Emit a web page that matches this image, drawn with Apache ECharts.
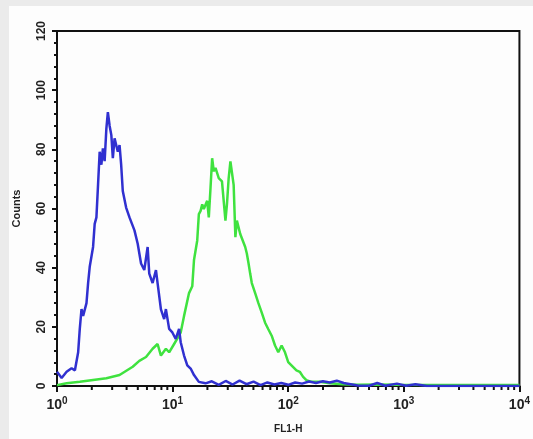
<!DOCTYPE html>
<html><head><meta charset="utf-8">
<script src="https://cdn.jsdelivr.net/npm/echarts@6/dist/echarts.min.js"></script>
<style>html,body{margin:0;padding:0;background:#ebebeb}#c{width:533px;height:439px}</style>
</head><body><div id="c"></div>
<script>
// FL1-H positions stored as log10 values (decades), counts per channel
const blueLog = [0.000,0.040,0.083,0.126,0.155,0.183,0.197,0.212,0.226,0.255,0.269,0.283,0.312,0.326,0.341,0.355,0.369,0.384,0.397,0.412,0.427,0.440,0.455,0.470,0.483,0.498,0.526,0.541,0.555,0.569,0.598,0.627,0.641,0.670,0.698,0.727,0.755,0.784,0.798,0.827,0.856,0.870,0.899,0.927,0.942,0.970,0.998,1.027,1.056,1.070,1.099,1.127,1.156,1.185,1.227,1.285,1.339,1.399,1.459,1.519,1.579,1.639,1.700,1.760,1.820,1.880,1.940,2.000,2.060,2.120,2.180,2.240,2.300,2.360,2.420,2.480,2.540,2.600,2.700,2.770,2.840,2.940,3.020,3.100,3.200,3.500,4.000];
const blueCounts = [4.8,2.7,4.8,6.0,5.3,11.4,19.3,26.0,23.7,28.0,34.8,40.3,47.0,54.8,57.0,68.0,79.2,74.8,80.3,76.0,87.0,92.6,88.0,84.8,77.0,83.7,79.2,81.4,74.8,65.9,60.3,57.0,57.0,52.6,48.1,41.4,39.2,47.0,38.0,34.8,39.2,34.8,25.9,22.6,26.0,19.3,18.1,15.9,19.3,14.8,10.3,7.0,5.9,3.7,1.4,0.9,1.6,0.4,1.7,0.5,1.8,0.6,1.5,0.3,1.2,0.5,1.0,0.4,1.2,0.8,1.5,1.0,1.6,1.2,1.8,1.0,0.6,0.2,0.1,1.0,0.1,0.8,0.1,0.6,0.0,0.0,0.0];
const greenLog = [0.000,0.083,0.197,0.312,0.427,0.541,0.655,0.712,0.770,0.827,0.870,0.899,0.942,0.970,1.013,1.056,1.070,1.099,1.142,1.170,1.185,1.199,1.213,1.227,1.242,1.256,1.270,1.299,1.313,1.328,1.342,1.356,1.371,1.399,1.427,1.457,1.470,1.485,1.500,1.528,1.543,1.556,1.585,1.628,1.642,1.657,1.671,1.685,1.714,1.742,1.771,1.800,1.828,1.857,1.886,1.914,1.943,1.972,2.000,2.028,2.071,2.100,2.129,2.157,2.200,2.272,2.358,2.470,2.600,2.770,2.940,3.290,3.630,4.000];
const greenCounts = [0.3,0.9,1.4,2.0,2.6,3.7,6.5,8.5,9.8,12.6,14.2,10.3,12.6,11.4,14.2,17.0,18.1,23.7,31.4,33.7,42.6,45.9,49.2,58.1,59.2,61.4,59.8,62.6,57.0,67.0,77.0,72.6,73.7,70.3,69.2,55.9,61.4,70.3,75.9,68.0,50.3,55.9,51.4,47.0,44.8,41.4,38.0,34.8,31.4,28.0,24.8,21.4,19.2,17.0,13.7,11.4,13.7,11.4,8.1,7.0,5.3,4.8,3.1,2.0,1.4,1.4,0.9,0.6,0.4,0.5,0.4,0.3,0.3,0.3];
const decadeTicks = [0,1,2,3,4];
const yTicks = [0,20,40,60,80,100,120];

const minorTicks = [];
for (let d = 0; d < 4; d++) for (let m = 2; m <= 9; m++) minorTicks.push([Math.log10(m) + d, 0]);

const chart = echarts.init(document.getElementById('c'));
const font = '"Liberation Sans", Arial, sans-serif';
chart.setOption({
  backgroundColor: '#ebebeb',
  animation: false,
  graphic: [{type:'rect', shape:{x:9,y:6,width:530,height:440}, style:{fill:'#fdfdfd'}, z:-10, silent:true}],
  grid: {left:57, right:10, top:31, bottom:48, show:true, borderColor:'#111', borderWidth:2, backgroundColor:'transparent'},
  xAxis: {
    type:'value', min:decadeTicks[0], max:decadeTicks[decadeTicks.length-1], interval:1,
    axisLine:{show:true, lineStyle:{color:'#111', width:2}},
    axisTick:{show:true, length:6, inside:false, lineStyle:{color:'#111', width:2}},
    splitLine:{show:false},
    axisLabel:{margin:10, formatter: v => '{b|10}{s|' + v + '}',
      rich:{b:{fontSize:14, fontWeight:'bold', color:'#222', fontFamily:font},
            s:{fontSize:10, fontWeight:'bold', color:'#222', fontFamily:font, padding:[0,0,9,0]}}},
    name:'FL1-H', nameLocation:'middle', nameGap:38,
    nameTextStyle:{fontSize:10, fontWeight:'bold', color:'#222', fontFamily:font}
  },
  yAxis: {
    type:'value', min:yTicks[0], max:yTicks[yTicks.length-1], interval:20,
    axisLine:{show:true, lineStyle:{color:'#111', width:2}},
    axisTick:{show:true, length:5, lineStyle:{color:'#111', width:2}},
    minorTick:{show:true, splitNumber:5, length:3, lineStyle:{color:'#111', width:2}},
    splitLine:{show:false},
    axisLabel:{rotate:90, margin:9, fontSize:12, fontWeight:'bold', color:'#222', fontFamily:font},
    name:'Counts', nameLocation:'middle', nameGap:35, nameRotate:90,
    nameTextStyle:{fontSize:11, fontWeight:'bold', color:'#222', fontFamily:font}
  },
  series: [
    {type:'custom', data:minorTicks, z:3, silent:true,
     renderItem:(params, api) => {
       const p = api.coord([api.value(0), 0]);
       return {type:'line', shape:{x1:p[0], y1:p[1], x2:p[0], y2:p[1]+4}, style:{stroke:'#111', lineWidth:2}};
     }},
    {type:'line', data:greenLog.map((x,i)=>[x, greenCounts[i]]), symbol:'none', smooth:false,
     lineStyle:{color:'#3fe23f', width:2.5}, z:4},
    {type:'line', data:blueLog.map((x,i)=>[x, blueCounts[i]]), symbol:'none', smooth:false,
     lineStyle:{color:'#3030d0', width:2.5}, z:5}
  ]
});
</script></body></html>
